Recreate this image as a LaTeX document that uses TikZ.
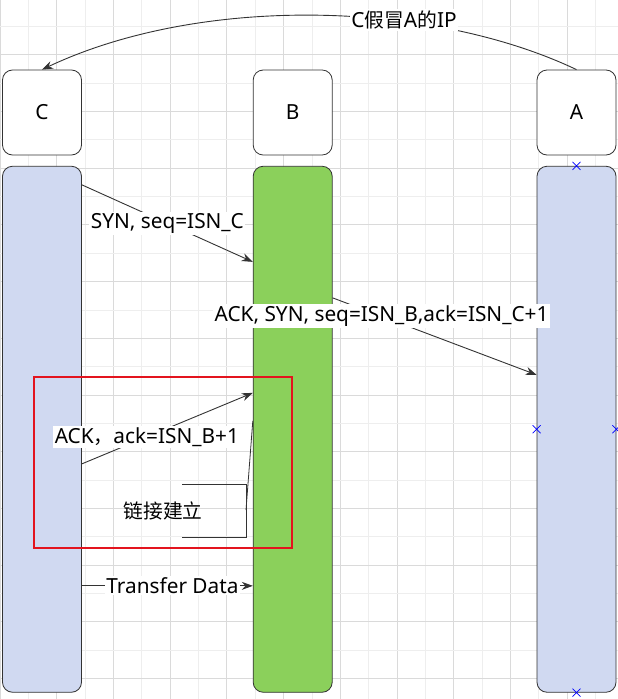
\documentclass[tikz,border=0pt]{standalone}
\usepackage{fontspec}
\setmainfont{Noto Sans}
\newfontfamily\cjk[Scale=0.95]{Noto Sans CJK SC}
\usetikzlibrary{arrows.meta}
\definecolor{lav}{HTML}{D0D9F1}
\definecolor{grn}{HTML}{8BD05B}
\definecolor{edgec}{HTML}{333333}
\definecolor{gmaj}{HTML}{DADADA}
\definecolor{gmin}{HTML}{EEEEEE}
\definecolor{redbox}{HTML}{E3141E}
\tikzset{
  bx/.pic={\draw[blue,line width=0.6pt] (-4,-4)--(4,4) (-4,4)--(4,-4);}
}
\begin{document}
\begin{tikzpicture}[x=1pt,y=-1pt,
  font=\fontsize{20.8}{24}\selectfont,
  hdr/.style={draw=edgec, line width=0.8pt, rounded corners=10pt, fill=white, minimum width=79pt, minimum height=85pt, inner sep=0pt},
  life/.style={draw=edgec, line width=0.8pt, rounded corners=10pt, minimum width=79pt, minimum height=526pt, inner sep=0pt},
  msg/.style={draw=edgec, line width=0.9pt, -{Stealth[length=11pt,width=8pt]}},
  lbl/.style={fill=white, inner sep=1.5pt, text=black},
  plain/.style={draw=edgec, line width=0.8pt},
]
\useasboundingbox (0,0) rectangle (618,699);
\fill[white] (0,0) rectangle (618,699);
% grid
\foreach \k in {0,...,21}{
  \pgfmathtruncatemacro{\ev}{mod(\k,2)}
  \ifnum\ev=0 \draw[gmaj,line width=0.7pt] (\k*28.35,0) -- (\k*28.35,699);
  \else \draw[gmin,line width=0.7pt] (\k*28.35,0) -- (\k*28.35,699); \fi
}
\foreach \k in {1,...,24}{
  \pgfmathtruncatemacro{\ev}{mod(\k,2)}
  \ifnum\ev=0 \draw[gmaj,line width=0.7pt] (0,\k*28.35-2) -- (618,\k*28.35-2);
  \else \draw[gmin,line width=0.7pt] (0,\k*28.35-2) -- (618,\k*28.35-2); \fi
}
% header boxes
\node[hdr] (hC) at (42,112.5) {C};
\node[hdr] (hB) at (292.7,112.5) {B};
\node[hdr] (hA) at (576.5,112.5) {A};
% lifelines
\node[life, fill=lav] (lC) at (42,429.25) {};
\node[life, fill=grn] (lB) at (292.7,429.25) {};
\node[life, fill=lav] (lA) at (576.5,429.25) {};
% top curved arrow
\draw[msg] (hA.north) .. controls (430,0) and (200,-5) .. (hC.north);
\node[lbl] (ttl) at (404,20) {C{\cjk 假冒}A{\cjk 的}IP};
% messages
\draw[msg] ([yshift=-19pt]lC.north east) -- node[lbl,pos=0.5] (m1) {SYN, seq=ISN\_C} ([yshift=-96pt]lB.north west);
\draw[msg] ([yshift=-132pt]lB.north east) -- node[lbl,pos=0.24] (m2) {ACK, SYN, seq=ISN\_B,ack=ISN\_C+1} ([yshift=-209pt]lA.north west);
\draw[msg] ([yshift=-298pt]lC.north east) -- node[lbl,pos=0.38] (m3) {ACK{\cjk ，}ack=ISN\_B+1} ([yshift=-227pt]lB.north west);
\draw[msg] ([yshift=-420pt]lC.north east) -- node[lbl,pos=0.53] (m4) {Transfer Data} ([yshift=-420pt]lB.north west);
% red highlight
\node[draw=redbox, line width=1.6pt, minimum width=258pt, minimum height=171pt, inner sep=0pt] (hl) at (163,462.5) {};
% annotation bracket
\node (ann) at (163,511) {\cjk 链接建立};
\coordinate (brT) at (182,484);
\coordinate (brB) at (182,537);
\coordinate (brR) at (246,510);
\draw[plain] (brT) -- (246,484) -- (246,537) -- (brB);
\draw[plain] ([yshift=-255pt]lB.north west) -- (brR);
% connection markers
\pic at (lA.north) {bx};
\pic at (lA.west) {bx};
\pic at (lA.east) {bx};
\pic at (lA.south) {bx};
\end{tikzpicture}
\end{document}
